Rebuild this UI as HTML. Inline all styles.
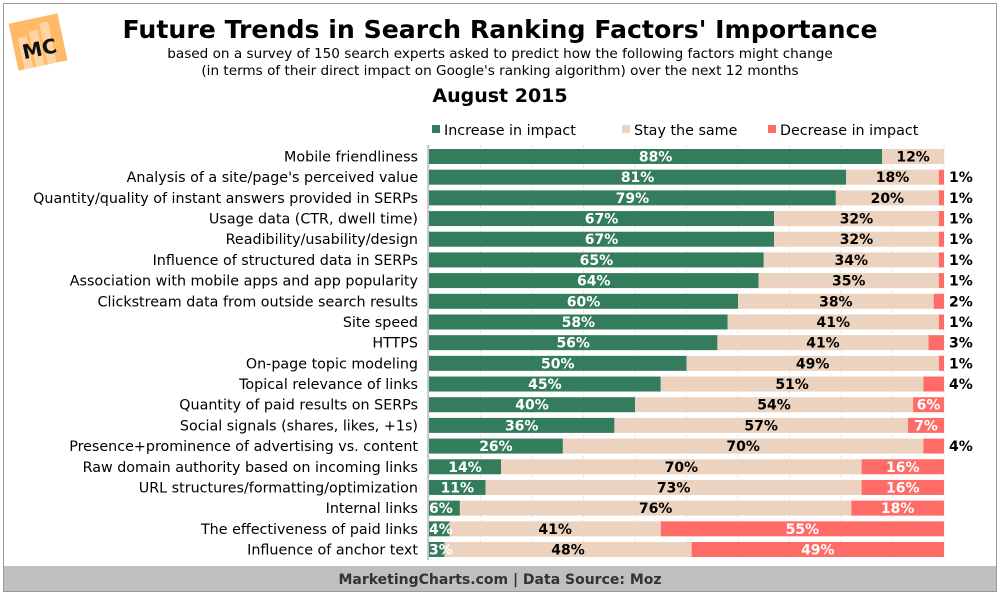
<!DOCTYPE html>
<html><head><meta charset="utf-8"><style>
body{margin:0;background:#fff}
svg{display:block;font-family:Verdana,"DejaVu Sans",sans-serif}
</style></head><body>
<svg width="1000" height="595" viewBox="0 0 1000 595" xmlns="http://www.w3.org/2000/svg">
<rect x="3.5" y="3.5" width="993" height="588" fill="#fff" stroke="#999" stroke-width="1"/>
<rect x="4" y="566" width="992" height="25" fill="#bfbfbf"/>
<text x="500" y="584" text-anchor="middle" font-size="14" font-weight="bold" fill="#333">MarketingCharts.com | Data Source: Moz</text>
<g transform="rotate(-12 38 42)">
<rect x="13" y="18" width="50" height="48" fill="#ffb968"/>
<rect x="19" y="34" width="9" height="32" fill="#ffd4a4"/><rect x="31" y="30" width="9" height="36" fill="#ffd4a4"/><rect x="43" y="24" width="9" height="42" fill="#ffd4a4"/>
<text x="38" y="56" text-anchor="middle" font-size="20" font-weight="bold" fill="#111">MC</text>
</g>
<text x="500" y="38" text-anchor="middle" font-size="25.2" font-weight="bold" fill="#000">Future Trends in Search Ranking Factors' Importance</text>
<text x="500" y="58" text-anchor="middle" font-size="13.6" fill="#000">based on a survey of 150 search experts asked to predict how the following factors might change</text>
<text x="500" y="75" text-anchor="middle" font-size="13.6" fill="#000">(in terms of their direct impact on Google's ranking algorithm) over the next 12 months</text>
<text x="500" y="102" text-anchor="middle" font-size="19" font-weight="bold" fill="#000">August 2015</text>
<rect x="432" y="125" width="8" height="8" fill="#347d5c"/><text x="444" y="135" font-size="14.3">Increase in impact</text>
<rect x="622" y="125" width="8" height="8" fill="#ebd3bf"/><text x="634" y="135" font-size="14.3">Stay the same</text>
<rect x="768" y="125" width="8" height="8" fill="#ff6b66"/><text x="780" y="135" font-size="14.3">Decrease in impact</text>
<g id="bars"></g>
</svg>
<script>
const d=[["Mobile friendliness",88,12,0],["Analysis of a site/page's perceived value",81,18,1],["Quantity/quality of instant answers provided in SERPs",79,20,1],["Usage data (CTR, dwell time)",67,32,1],["Readibility/usability/design",67,32,1],["Influence of structured data in SERPs",65,34,1],["Association with mobile apps and app popularity",64,35,1],["Clickstream data from outside search results",60,38,2],["Site speed",58,41,1],["HTTPS",56,41,3],["On-page topic modeling",50,49,1],["Topical relevance of links",45,51,4],["Quantity of paid results on SERPs",40,54,6],["Social signals (shares, likes, +1s)",36,57,7],["Presence+prominence of advertising vs. content",26,70,4],["Raw domain authority based on incoming links",14,70,16],["URL structures/formatting/optimization",11,73,16],["Internal links",6,76,18],["The effectiveness of paid links",4,41,55],["Influence of anchor text",3,48,49]];
const X0=429,W=515,ns="http://www.w3.org/2000/svg",g=document.getElementById('bars');
function el(t,a,txt){const e=document.createElementNS(ns,t);for(const k in a)e.setAttribute(k,a[k]);if(txt)e.textContent=txt;g.appendChild(e);}
const top0=149, sp=(542-149)/19;
for(let i=0;i<=10;i++){const x=X0+i*W/10;el('line',{x1:x,y1:145,x2:x,y2:560,stroke:'#e6e6e6','stroke-dasharray':'3,2'});}
el('line',{x1:X0-1,y1:145,x2:X0-1,y2:560,stroke:'#999'});
d.forEach((r,i)=>{const y=top0+i*sp,h=15,cy=y+12.5;
 let x=X0;const cols=['#347d5c','#ebd3bf','#ff6b66'];
 const xs=[];
 for(let k=0;k<3;k++){const w=r[k+1]*W/100;el('rect',{x:x,y:y,width:w,height:h,fill:cols[k]});xs.push([x,w]);x+=w;}
 el('text',{x:418,y:cy,'text-anchor':'end','font-size':14.3},r[0]);
 const [gx,gw]=xs[0];
 if(r[1]>=10)el('text',{x:gx+gw/2,y:cy,'text-anchor':'middle','font-size':14,'font-weight':'bold',fill:'#fff'},r[1]+'%');
 else el('text',{x:X0,y:cy,'font-size':14,'font-weight':'bold',fill:'#fff'},r[1]+'%');
 const [bx,bw]=xs[1];
 el('text',{x:bx+bw/2,y:cy,'text-anchor':'middle','font-size':14,'font-weight':'bold',fill:'#000'},r[2]+'%');
 if(r[3]>0){const [rx,rw]=xs[2];
  if(r[3]>=6)el('text',{x:rx+rw/2,y:cy,'text-anchor':'middle','font-size':14,'font-weight':'bold',fill:'#fff'},r[3]+'%');
  else el('text',{x:949,y:cy,'font-size':14,'font-weight':'bold',fill:'#000'},r[3]+'%');}
});
</script>
</body></html>
